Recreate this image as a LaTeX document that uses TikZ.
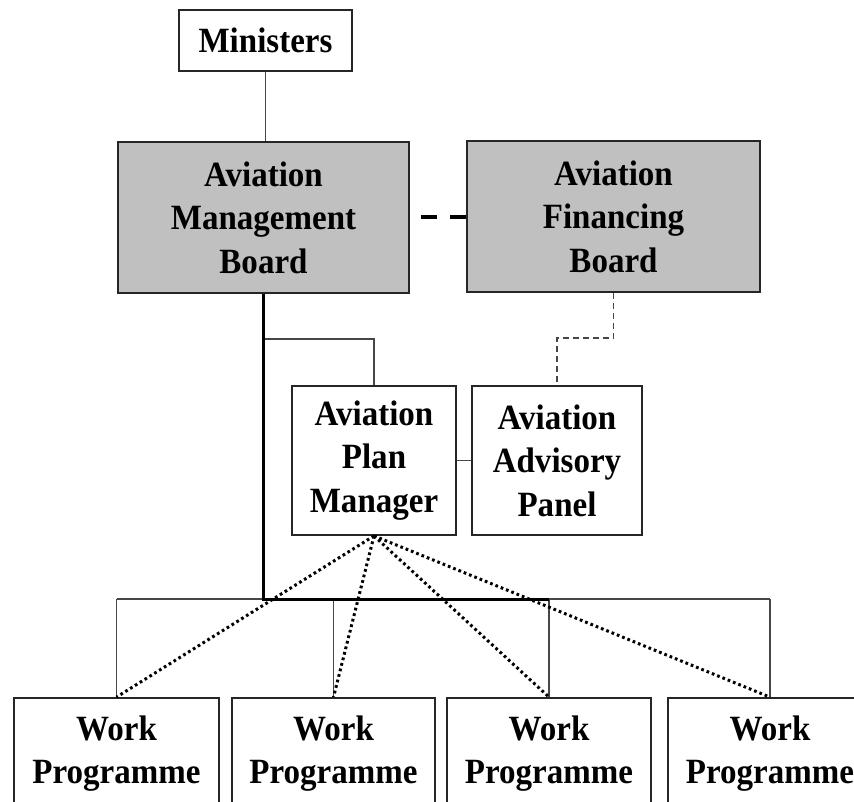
\documentclass[tikz,border=0pt]{standalone}
\usepackage{fontspec}
\newfontfamily\labelfont{Liberation Serif Bold}[FakeStretch=0.93]
\definecolor{boxgray}{RGB}{192,192,192}
\definecolor{linegray}{RGB}{70,70,70}
\tikzset{
  orgbox/.style={draw=black!85, line width=1.8pt, inner sep=0pt, align=center,
    font=\labelfont\fontsize{35.5}{43.5}\selectfont},
  greybox/.style={orgbox, fill=boxgray},
  thinlink/.style={draw=linegray, line width=1.2pt},
  trunk/.style={draw=black, line width=3pt},
  boarddash/.style={draw=black, line width=4pt, dash pattern=on 16pt off 13pt},
  advdash/.style={draw=linegray, line width=1.3pt, dash pattern=on 6pt off 4pt},
  dotlink/.style={draw=black, line width=3pt, line cap=butt, dash pattern=on 2.7pt off 3pt}
}
\begin{document}
\begin{tikzpicture}[x=1pt,y=-1pt]
\useasboundingbox (0,0) rectangle (854,801);
\clip (0,0) rectangle (854,801);
\fill[white] (0,0) rectangle (854,801);

\node[orgbox, minimum width=173pt, minimum height=61pt] (min) at (265.5,40.5) {Ministers};
\node[greybox, minimum width=291pt, minimum height=151pt] (amb) at (263.5,217.5) {Aviation\\Management\\Board};
\node[greybox, minimum width=293pt, minimum height=151pt] (afb) at (613.5,216.5) {Aviation\\Financing\\Board};
\node[orgbox, minimum width=164pt, minimum height=149pt] (apm) at (374,460.5) {Aviation\\Plan\\Manager};
\node[orgbox, minimum width=170pt, minimum height=149pt] (aap) at (557,460.5) {Aviation\\Advisory\\Panel};
\node[orgbox, minimum width=205pt, minimum height=111pt] (w1) at (116.5,753.5) {Work\\Programme};
\node[orgbox, minimum width=203pt, minimum height=111pt] (w2) at (333.5,753.5) {Work\\Programme};
\node[orgbox, minimum width=204pt, minimum height=111pt] (w3) at (549,753.5) {Work\\Programme};
\node[orgbox, minimum width=204pt, minimum height=111pt] (w4) at (770,753.5) {Work\\Programme};

\coordinate (bar) at (0,599);
\coordinate (j1) at (0,339);
\coordinate (j2) at (0,338);

\draw[thinlink] (min.south) -- (min.south |- amb.north);
\draw[thinlink] (w1.north |- bar) -- (w4.north |- bar);
\foreach \w in {w1,w2,w3,w4} \draw[thinlink] (\w.north |- bar) -- (\w.north);
\draw[thinlink] (amb.south |- j1) -- (apm.north |- j1) -- (apm.north);
\draw[thinlink] (apm.east) -- (aap.west);
\draw[advdash] (afb.south) -- (afb.south |- j2) -- (aap.north |- j2) -- (aap.north);
\draw[trunk] (amb.south) -- (amb.south |- bar) -- (w3.north |- bar);
\draw[boarddash] (afb.west) -- (afb.west -| amb.east);
\foreach \w in {w1,w2,w3,w4} \draw[dotlink] (apm.south) -- (\w.north);
\end{tikzpicture}
\end{document}
